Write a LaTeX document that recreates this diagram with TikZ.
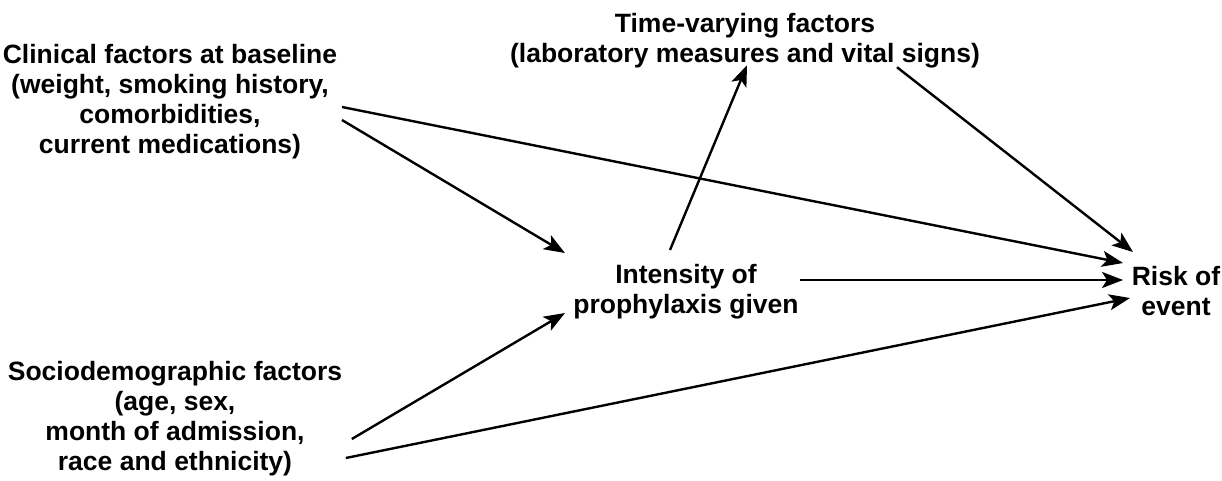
\documentclass[tikz,border=0pt]{standalone}
\usepackage{fontspec}
\setmainfont{Liberation Sans}
\usetikzlibrary{arrows.meta}
\begin{document}
\begin{tikzpicture}[x=1pt,y=-1pt,
  lbl/.style={inner sep=0pt,outer sep=0pt,align=center,anchor=north,
    font=\fontsize{26.5}{30}\selectfont\bfseries},
  arr/.style={line width=2.4pt,-{Stealth[length=21pt,width=16pt,inset=5pt]}}]
\useasboundingbox[fill=white] (0,0) rectangle (1222,481);
\node[lbl] (clin) at (170,44) {Clinical factors at baseline\\(weight, smoking history,\\comorbidities,\\current medications)};
\node[lbl] (time) at (745,13) {Time-varying factors\\(laboratory measures and vital signs)};
\node[lbl] (int) at (686,264) {Intensity of\\prophylaxis given};
\node[lbl] (risk) at (1176,266) {Risk of\\event};
\node[lbl] (soc) at (175,361) {Sociodemographic factors\\(age, sex,\\month of admission,\\race and ethnicity)};
\draw[arr] ([shift={(4.8,63)}]clin.north east) -- ([shift={(-8.8,-3)}]risk.north west);
\draw[arr] ([shift={(4.8,76)}]clin.north east) -- ([shift={(-8.4,-11)}]int.north west);
\draw[arr] ([shift={(-16,-14)}]int.north) -- ([shift={(2,-2.6)}]time.south);
\draw[arr] ([shift={(152,-0.6)}]time.south) -- ([shift={(1.2,-14)}]risk.north west);
\draw[arr] ([shift={(1.4,16)}]int.north east) -- ([shift={(-8.8,14)}]risk.north west);
\draw[arr] ([shift={(9.7,78)}]soc.north east) -- ([shift={(-8.4,49)}]int.north west);
\draw[arr] ([shift={(3.7,97)}]soc.north east) -- ([shift={(-1.8,32)}]risk.north west);
\end{tikzpicture}
\end{document}
